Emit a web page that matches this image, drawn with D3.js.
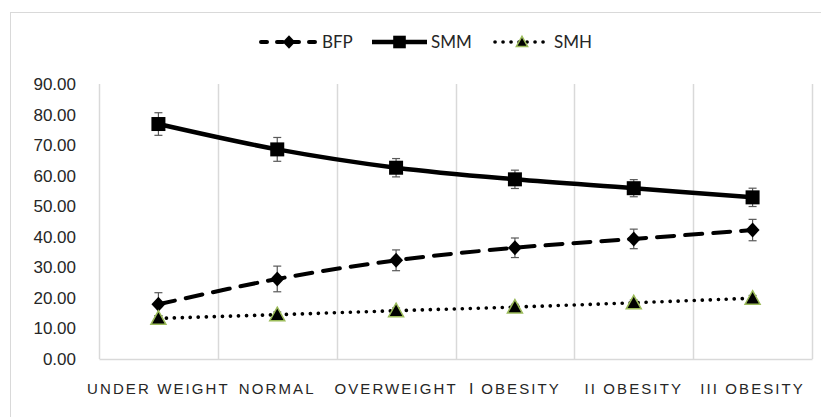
<!DOCTYPE html>
<html>
<head>
<meta charset="utf-8">
<script src="https://cdn.jsdelivr.net/npm/d3@7"></script>
<style>
  html, body { margin: 0; padding: 0; background: #fff; }
  svg { display: block; font-family: Lato, "Noto Sans", sans-serif; }
</style>
</head>
<body>
<svg id="chart" width="821" height="417"></svg>
<script>
// Body-composition indices by BMI group (mean ± SD)
const categories = ["UNDER WEIGHT", "NORMAL", "OVERWEIGHT", "\u2160 OBESITY", "II OBESITY", "III OBESITY"];
const seriesNames = ["BFP", "SMM", "SMH"];
const bfp = [17.9, 26.2, 32.3, 36.4, 39.3, 42.2];
const bfpErr = [3.8, 4.2, 3.4, 3.2, 3.2, 3.5];
const smm = [76.9, 68.6, 62.6, 58.8, 55.9, 52.9];
const smmErr = [3.7, 3.9, 3.0, 3.0, 2.8, 3.0];
const smh = [13.3, 14.5, 15.8, 17.0, 18.4, 19.9];
const smhErr = [0.9, 0.9, 0.9, 0.9, 0.9, 0.9];
const yTicks = [0, 10, 20, 30, 40, 50, 60, 70, 80, 90];

const svg = d3.select("#chart");
const W = 821, H = 417;
const plot = { left: 99, right: 812, top: 84, bottom: 359 };
const gridColor = "#d9d9d9";

// outer chart frame
svg.append("rect")
  .attr("x", 10.5).attr("y", 12.5)
  .attr("width", W + 40).attr("height", H + 40)
  .attr("fill", "none").attr("stroke", gridColor).attr("stroke-width", 1);

const x = d3.scaleBand().domain(categories).range([plot.left, plot.right]).padding(0);
const y = d3.scaleLinear().domain([0, 90]).range([plot.bottom, plot.top]);
const cx = c => x(c) + x.bandwidth() / 2;

// vertical gridlines at category boundaries
const bounds = categories.map(c => x(c)).concat([x(categories[categories.length - 1]) + x.bandwidth()]);
svg.append("g").selectAll("line").data(bounds).join("line")
  .attr("x1", d => Math.round(d) + 0.5).attr("x2", d => Math.round(d) + 0.5)
  .attr("y1", plot.top).attr("y2", plot.bottom)
  .attr("stroke", gridColor).attr("stroke-width", 1.5);

// category axis
const xAxis = svg.append("g").attr("transform", `translate(0,${plot.bottom})`)
  .call(d3.axisBottom(x).tickSize(0).tickPadding(30));
xAxis.select(".domain").attr("stroke", gridColor).attr("stroke-width", 1.5);
xAxis.selectAll("text")
  .attr("fill", "#262626")
  .style("font-size", "15px")
  .style("letter-spacing", "2.1px")
  .attr("dy", "0.3em");

// value axis
const yAxis = svg.append("g").attr("transform", `translate(${plot.left},0)`)
  .call(d3.axisLeft(y).tickValues(yTicks).tickFormat(d3.format(".2f")).tickSize(0).tickPadding(23));
yAxis.select(".domain").remove();
yAxis.selectAll("text").attr("fill", "#262626").style("font-size", "17px");

// series definitions
const series = [
  { name: seriesNames[0], values: bfp, err: bfpErr, dash: "17,11", width: 4, cap: "round", marker: "diamond" },
  { name: seriesNames[1], values: smm, err: smmErr, dash: null, width: 4.5, cap: "butt", marker: "square" },
  { name: seriesNames[2], values: smh, err: smhErr, dash: "0.1,7.9", width: 3.6, cap: "round", marker: "triangle" }
];

const line = d3.line().curve(d3.curveCatmullRom.alpha(0.5));

function drawMarker(g, type, px, py, scale) {
  const s = scale || 1;
  if (type === "square") {
    g.append("rect").attr("x", px - 7 * s).attr("y", py - 7 * s)
      .attr("width", 14 * s).attr("height", 14 * s).attr("fill", "#000");
  } else if (type === "diamond") {
    g.append("path").attr("d", `M${px},${py - 7.5 * s}L${px + 7 * s},${py}L${px},${py + 7.5 * s}L${px - 7 * s},${py}Z`)
      .attr("fill", "#000");
  } else {
    g.append("path").attr("d", `M${px},${py - 7.5 * s}L${px + 7.5 * s},${py + 6 * s}L${px - 7.5 * s},${py + 6 * s}Z`)
      .attr("fill", "#000").attr("stroke", "#9bbb59").attr("stroke-width", 1.5).attr("stroke-linejoin", "miter");
  }
}

const layer = svg.append("g");
series.forEach(s => {
  const pts = s.values.map((v, i) => [cx(categories[i]), y(v)]);
  layer.append("path").attr("d", line(pts))
    .attr("fill", "none").attr("stroke", "#000")
    .attr("stroke-width", s.width)
    .attr("stroke-linecap", s.cap)
    .attr("stroke-dasharray", s.dash);
});

// error bars
series.forEach(s => {
  const g = layer.append("g").attr("stroke", "#595959").attr("stroke-width", 1.2);
  s.values.forEach((v, i) => {
    const px = cx(categories[i]);
    const y1 = y(v + s.err[i]), y2 = y(v - s.err[i]);
    g.append("line").attr("x1", px).attr("x2", px).attr("y1", y1).attr("y2", y2);
    g.append("line").attr("x1", px - 4).attr("x2", px + 4).attr("y1", y1).attr("y2", y1);
    g.append("line").attr("x1", px - 4).attr("x2", px + 4).attr("y1", y2).attr("y2", y2);
  });
});

// markers
series.forEach(s => {
  const g = layer.append("g");
  s.values.forEach((v, i) => drawMarker(g, s.marker, cx(categories[i]), y(v)));
});

// legend
const legendY = 42;
const legendItems = [
  { s: series[0], x0: 261, x1: 317, tx: 322 },
  { s: series[1], x0: 372, x1: 427, tx: 431 },
  { s: series[2], x0: 495, x1: 549, tx: 554 }
];
const lg = svg.append("g");
legendItems.forEach(it => {
  lg.append("line").attr("x1", it.x0).attr("x2", it.x1).attr("y1", legendY).attr("y2", legendY)
    .attr("stroke", "#000").attr("stroke-width", it.s.width)
    .attr("stroke-linecap", it.s.cap)
    .attr("stroke-dasharray", it.s.marker === "diamond" ? "6,10" : it.s.dash);
  drawMarker(lg, it.s.marker, (it.x0 + it.x1) / 2, legendY, it.s.marker === "triangle" ? 0.75 : 0.9);
  lg.append("text").attr("x", it.tx).attr("y", legendY).attr("dy", "0.35em")
    .attr("fill", "#262626").style("font-size", "17px").text(it.s.name);
});
</script>
</body>
</html>
